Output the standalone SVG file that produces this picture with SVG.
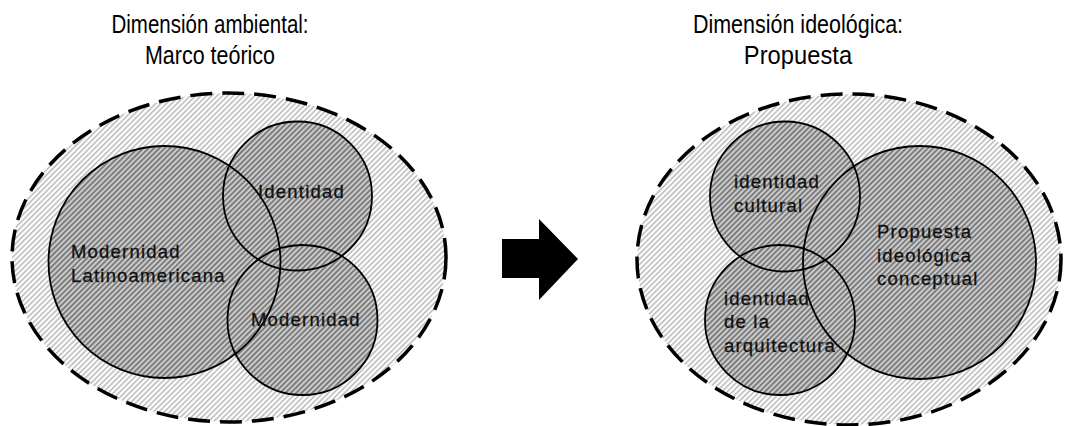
<svg xmlns="http://www.w3.org/2000/svg" width="1065" height="426" viewBox="0 0 1065 426">
<style>
.title{font-family:"Liberation Sans",Arial,sans-serif;font-size:25px;fill:#000;text-anchor:middle}
.lbl{font-family:"Liberation Sans",Arial,sans-serif;font-size:18.5px;letter-spacing:1.2px;fill:#111;stroke:#111;stroke-width:0.3}
.outer{fill:url(#hatchOuter);stroke:#000;stroke-width:3.5;stroke-dasharray:22 10}
.inner{fill:url(#hatchInner);stroke:none}
.ring{fill:none;stroke:#000;stroke-width:1.8}
</style>
<defs>
<pattern id="hatchOuter" width="3.8" height="3.8" patternUnits="userSpaceOnUse" patternTransform="rotate(45)">
<rect width="3.8" height="3.8" fill="#fff"/>
<rect width="1.6" height="3.8" fill="#bcbcbc"/>
</pattern>
<pattern id="hatchInner" width="3.8" height="3.8" patternUnits="userSpaceOnUse" patternTransform="rotate(45)">
<rect width="3.8" height="3.8" fill="#cbcbcb"/>
<rect width="1.7" height="3.8" fill="#747474"/>
</pattern>
</defs>
<rect width="1065" height="426" fill="#fff"/>

<g id="title-left">
<text class="title" x="210" y="33" transform="translate(210 0) scale(0.82 1) translate(-210 0)">Dimensión ambiental:</text>
<text class="title" x="210" y="64" transform="translate(210 0) scale(0.86 1) translate(-210 0)">Marco teórico</text>
</g>
<g id="title-right">
<text class="title" x="798" y="33" transform="translate(798 0) scale(0.86 1) translate(-798 0)">Dimensión ideológica:</text>
<text class="title" x="798" y="64" transform="translate(798 0) scale(0.95 1) translate(-798 0)">Propuesta</text>
</g>

<g id="dimension-ambiental">
<ellipse class="outer" cx="229" cy="257.5" rx="217" ry="164.5"/>
</g>
<g id="modernidad-latinoamericana">
<circle class="inner" cx="164.5" cy="262" r="116"/>
</g>
<g id="identidad">
<circle class="inner" cx="297.5" cy="196" r="74.5"/>
</g>
<g id="modernidad">
<circle class="inner" cx="302.5" cy="320" r="75"/>
</g>
<g id="rings-left">
<circle class="ring" cx="164.5" cy="262" r="116"/>
<circle class="ring" cx="297.5" cy="196" r="74.5"/>
<circle class="ring" cx="302.5" cy="320" r="75"/>
</g>
<g id="labels-left">
<text class="lbl" x="71" y="258">Modernidad</text>
<text class="lbl" x="71" y="282">Latinoamericana</text>
<text class="lbl" x="258" y="198">Identidad</text>
<text class="lbl" x="251" y="326">Modernidad</text>
</g>

<g id="dimension-ideologica">
<ellipse class="outer" cx="849" cy="259.5" rx="212" ry="165.5"/>
</g>
<g id="identidad-cultural">
<circle class="inner" cx="785" cy="196.5" r="75"/>
</g>
<g id="identidad-arquitectura">
<circle class="inner" cx="780" cy="320" r="75"/>
</g>
<g id="propuesta-ideologica">
<circle class="inner" cx="919.5" cy="262.5" r="116.5"/>
</g>
<g id="rings-right">
<circle class="ring" cx="785" cy="196.5" r="75"/>
<circle class="ring" cx="780" cy="320" r="75"/>
<circle class="ring" cx="919.5" cy="262.5" r="116.5"/>
</g>
<g id="labels-right">
<text class="lbl" x="734" y="188">identidad</text>
<text class="lbl" x="734" y="212">cultural</text>
<text class="lbl" x="877" y="238">Propuesta</text>
<text class="lbl" x="877" y="262">ideológica</text>
<text class="lbl" x="877" y="285">conceptual</text>
<text class="lbl" x="724" y="305">identidad</text>
<text class="lbl" x="724" y="328">de la</text>
<text class="lbl" x="724" y="352">arquitectura</text>
</g>

<g id="connectors">
<polygon points="502,239 539,239 539,219 578,259 539,300 539,278 502,278" fill="#000"/>
</g>
</svg>
